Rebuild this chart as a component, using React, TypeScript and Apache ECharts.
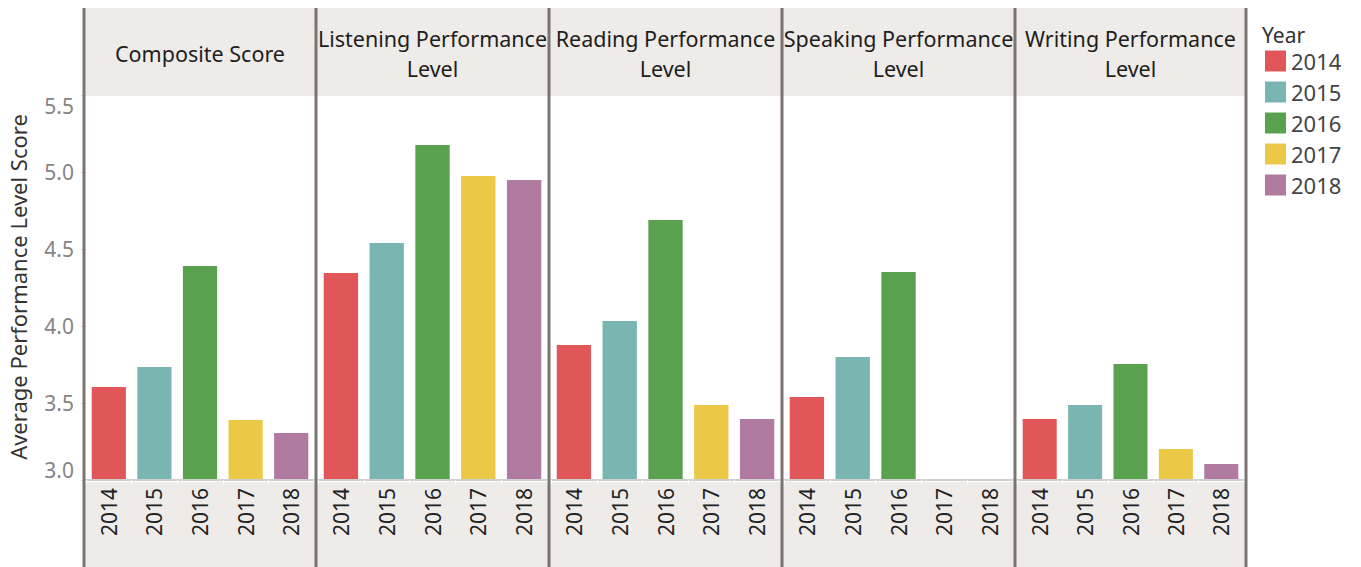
import React, { useEffect, useRef } from "react";
import * as echarts from "echarts";

const years = ["2014", "2015", "2016", "2017", "2018"];
const panels = [
  "Composite Score",
  "Listening Performance\nLevel",
  "Reading Performance\nLevel",
  "Speaking Performance\nLevel",
  "Writing Performance\nLevel",
];
const composite = [3.604, 3.734, 4.39, 3.39, 3.305];
const listening = [4.344, 4.539, 5.175, 4.974, 4.948];
const reading = [3.877, 4.032, 4.688, 3.487, 3.396];
const speaking: (number | null)[] = [3.539, 3.799, 4.351, null, null];
const writing = [3.396, 3.487, 3.753, 3.201, 3.104];
const panelValues = [composite, listening, reading, speaking, writing];
const yearColors = ["#E15759", "#79B6B1", "#59A14F", "#EBC947", "#B07AA1"];
const yTicks = { min: 3.0, max: 5.5, interval: 0.5 };
const dividers = [84, 316, 549, 782, 1015, 1246];

const FONT = "'Noto Sans', sans-serif";

export default function App() {
  const ref = useRef<HTMLDivElement>(null);
  useEffect(() => {
    if (!ref.current) return;
    const chart = echarts.init(ref.current, null, { renderer: "svg" });
    const grids: any[] = [];
    const xAxes: any[] = [];
    const yAxes: any[] = [];
    const series: any[] = [];
    panels.forEach((_, p) => {
      const left = dividers[p] + 2;
      const width = dividers[p + 1] - dividers[p] - 4;
      grids.push({ left, width, top: 95, height: 385 });
      xAxes.push({
        type: "category",
        gridIndex: p,
        data: years,
        z: 20,
        axisLine: { show: true, lineStyle: { color: "#cfcfcf", width: 2 } },
        axisTick: { show: true, length: 4, lineStyle: { color: "#ffffff" } },
        axisLabel: {
          rotate: 90,
          fontSize: 21,
          color: "#222",
          fontFamily: FONT,
          margin: 8,
          interval: 0,
        },
      });
      yAxes.push({
        type: "value",
        gridIndex: p,
        min: yTicks.min,
        max: yTicks.max,
        interval: yTicks.interval,
        z: 20,
        axisLine: { show: false },
        splitLine: { show: false },
        axisTick: { show: p === 0, length: 5, lineStyle: { color: "#d8d8d8" } },
        axisLabel: {
          show: p === 0,
          fontSize: 21,
          color: "#858585",
          fontFamily: FONT,
          margin: 0,
          padding: [0, 12, 0, 0],
          formatter: (v: number) => v.toFixed(1),
          verticalAlignMinLabel: "bottom",
          verticalAlignMaxLabel: "top",
        },
      });
      years.forEach((yr, i) => {
        const v = panelValues[p][i];
        const data = years.map((_, j) => (j === i && v != null ? v : "-"));
        series.push({
          type: "bar",
          name: yr,
          xAxisIndex: p,
          yAxisIndex: p,
          stack: "panel" + p,
          barWidth: "75%",
          data,
          itemStyle: { color: yearColors[i] },
        });
      });
    });

    const graphics: any[] = [
      { type: "rect", shape: { x: 84, y: 8, width: 1162, height: 88 }, style: { fill: "#EEEBE8" }, z: 1 },
      { type: "rect", shape: { x: 84, y: 482, width: 1162, height: 85 }, style: { fill: "#EEEBE8" }, z: 1 },
      {
        type: "text",
        x: 18,
        y: 287,
        rotation: Math.PI / 2,
        style: {
          text: "Average Performance Level Score",
          fontSize: 22,
          fontFamily: FONT,
          fill: "#333",
          align: "center",
          verticalAlign: "middle",
        },
        z: 10,
      },
      {
        type: "text",
        x: 1262,
        y: 35,
        style: { text: "Year", fontSize: 21, fontFamily: FONT, fill: "#333", align: "left", verticalAlign: "middle" },
        z: 10,
      },
    ];
    panels.forEach((title, p) => {
      graphics.push({
        type: "text",
        x: (dividers[p] + dividers[p + 1]) / 2,
        y: 53,
        style: {
          text: title,
          fontSize: 21.5,
          lineHeight: 30,
          fontFamily: FONT,
          fill: "#1e1e1e",
          align: "center",
          verticalAlign: "middle",
        },
        z: 10,
      });
    });
    dividers.forEach((x) => {
      graphics.push({
        type: "line",
        shape: { x1: x, y1: 8, x2: x, y2: 567 },
        style: { stroke: "#7D7471", lineWidth: 3 },
        z: 100,
      });
    });

    chart.setOption({
      animation: false,
      backgroundColor: "#ffffff",
      grid: grids,
      xAxis: xAxes,
      yAxis: yAxes,
      series,
      legend: {
        data: years,
        orient: "vertical",
        left: 1260,
        top: 45,
        itemWidth: 21,
        itemHeight: 21,
        itemGap: 9,
        icon: "rect",
        textStyle: { fontSize: 22, fontFamily: FONT, color: "#444" },
        selectedMode: false,
      },
      graphic: graphics,
    });
    return () => chart.dispose();
  }, []);
  return (
    <div
      ref={ref}
      style={{ position: "absolute", left: 0, top: 0, width: 1361, height: 567 }}
    />
  );
}
